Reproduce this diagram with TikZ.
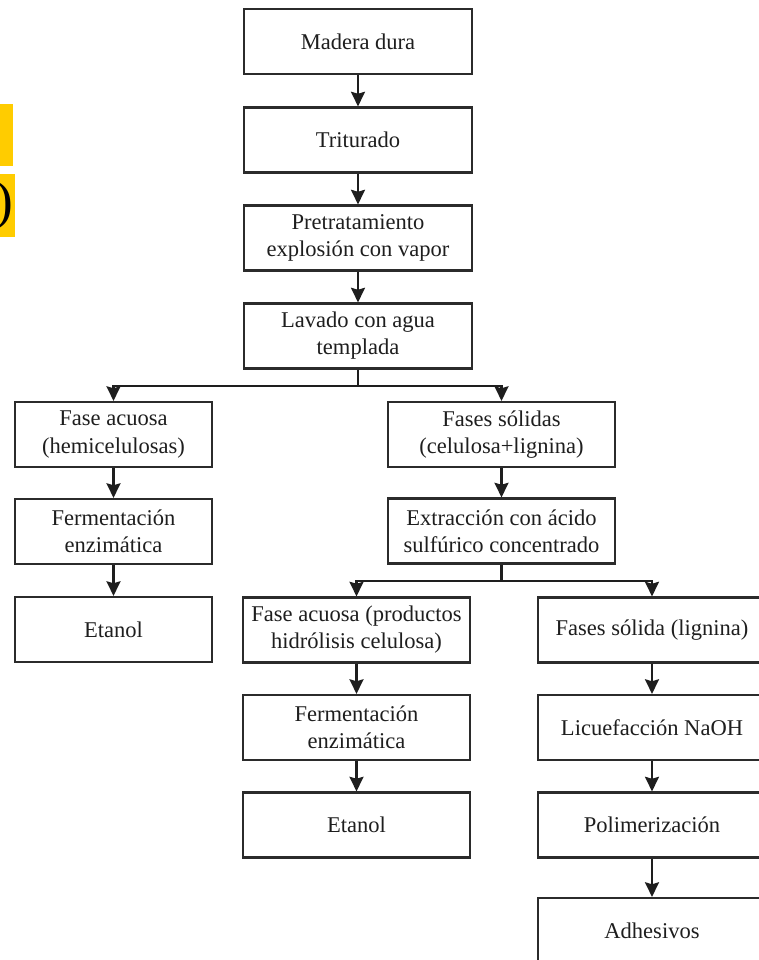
\documentclass[tikz,border=0pt]{standalone}
\usepackage{fontspec}
\setmainfont{Liberation Serif}
\usetikzlibrary{arrows.meta}
\definecolor{inkgray}{HTML}{1E1E1E}
\definecolor{boxline}{HTML}{2B2B2B}
\definecolor{tabyellow}{HTML}{FFCC00}
\begin{document}
\begin{tikzpicture}[x=0.75pt,y=-0.75pt,
  flowbox/.style={draw=boxline,line width=1.6pt,fill=white,inner sep=0pt,
    minimum width=171pt,minimum height=48.75pt,align=center,text=inkgray,
    font=\fontsize{16.9}{20.3}\selectfont},
  narrowbox/.style={flowbox,minimum width=147.75pt},
  wideboxr/.style={flowbox,minimum width=170.25pt},
  arr/.style={draw=inkgray,line width=1.6pt,-{Stealth[length=11pt,width=10.5pt,inset=1.5pt]}},
  link/.style={draw=inkgray,line width=1.6pt}]
\useasboundingbox (0,0) rectangle (759,960);
\clip (0,0) rectangle (759,960);

% tabs at the left margin
\fill[tabyellow] (0,104) rectangle (13,166);
\fill[tabyellow] (0,174) rectangle (15,237);
\node[anchor=east,inner sep=0pt,text=black,font=\fontsize{40}{40}\selectfont] (paren) at (14,206) {)};

% main column
\node[flowbox] (madera)  at (358,41.5)  {Madera dura};
\node[flowbox] (trit)    at (358,140)   {Triturado};
\node[flowbox] (pret)    at (358,238)   {Pretratamiento\\explosión con vapor};
\node[flowbox] (lavado)  at (358,336)   {Lavado con agua\\templada};

% hemicellulose branch
\node[narrowbox] (faseac)  at (113.5,434.5) {Fase acuosa\\(hemicelulosas)};
\node[narrowbox] (ferm1)   at (113.5,531.5) {Fermentación\\enzimática};
\node[narrowbox] (etanol1) at (113.5,629.5) {Etanol};

% solids branch
\node[wideboxr] (fasesol) at (501.5,434.5) {Fases sólidas\\(celulosa+lignina)};
\node[wideboxr] (extr)    at (501.5,531)   {Extracción con ácido\\sulfúrico concentrado};

% cellulose hydrolysis branch
\node[wideboxr] (faseac2) at (356.5,630)   {Fase acuosa (productos\\hidrólisis celulosa)};
\node[wideboxr] (ferm2)   at (356.5,727.5) {Fermentación\\enzimática};
\node[wideboxr] (etanol2) at (356.5,825)   {Etanol};

% lignin branch
\node[flowbox] (fsol2)  at (652,630)   {Fases sólida (lignina)};
\node[flowbox] (licu)   at (652,727.5) {Licuefacción NaOH};
\node[flowbox] (polim)  at (652,825)   {Polimerización};
\node[flowbox] (adhes)  at (652,930.5) {Adhesivos};

% connectors
\draw[arr] (madera) -- (trit);
\draw[arr] (trit) -- (pret);
\draw[arr] (pret) -- (lavado);

\coordinate (split1) at (358,386);
\draw[link] (lavado) -- (split1);
\draw[arr] (split1) -| (faseac);
\draw[arr] (split1) -| (fasesol);

\draw[arr] (faseac) -- (ferm1);
\draw[arr] (ferm1) -- (etanol1);
\draw[arr] (fasesol) -- (extr);

\coordinate (split2) at (501.5,581);
\draw[link] (extr) -- (split2);
\draw[arr] (split2) -| (faseac2);
\draw[arr] (split2) -| (fsol2);

\draw[arr] (faseac2) -- (ferm2);
\draw[arr] (ferm2) -- (etanol2);
\draw[arr] (fsol2) -- (licu);
\draw[arr] (licu) -- (polim);
\draw[arr] (polim) -- (adhes);
\end{tikzpicture}
\end{document}
